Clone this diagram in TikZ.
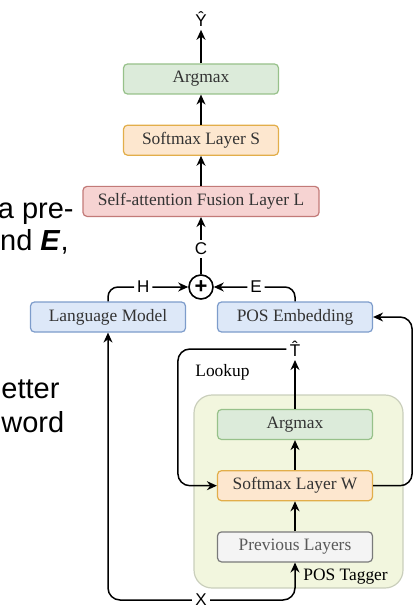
\documentclass[tikz,border=0pt]{standalone}
\usepackage{fontspec}
\setmainfont{Liberation Serif}
\newfontfamily\labelfont{Liberation Sans}
\usetikzlibrary{arrows.meta, positioning}

\definecolor{greenfill}{HTML}{DCEBDA}
\definecolor{greendraw}{HTML}{97C18A}
\definecolor{orangefill}{HTML}{FDE7CF}
\definecolor{orangedraw}{HTML}{E2AE4A}
\definecolor{redfill}{HTML}{F6D3D2}
\definecolor{reddraw}{HTML}{C27A78}
\definecolor{bluefill}{HTML}{DDE8F8}
\definecolor{bluedraw}{HTML}{7D9CCB}
\definecolor{greyfill}{HTML}{F4F4F4}
\definecolor{greydraw}{HTML}{7A7A7A}
\definecolor{taggerfill}{HTML}{F2F6DE}
\definecolor{taggerdraw}{HTML}{CACFBC}

\begin{document}
\begin{tikzpicture}[
    x=0.5pt, y=-0.5pt,
    node distance=15pt,
    every node/.style={font=\fontsize{8.7}{10}\selectfont},
    box/.style={rectangle, rounded corners=2pt, minimum width=77.5pt, minimum height=15pt, inner sep=0pt, line width=0.6pt, text=black!80},
    argbox/.style={box, draw=greendraw, fill=greenfill},
    smbox/.style={box, draw=orangedraw, fill=orangefill},
    fusebox/.style={box, draw=reddraw, fill=redfill, minimum width=118pt},
    lmbox/.style={box, draw=bluedraw, fill=bluefill},
    prevbox/.style={box, draw=greydraw, fill=greyfill, text=black!65},
    tagger/.style={rectangle, rounded corners=9pt, draw=taggerdraw, fill=taggerfill, line width=0.6pt, minimum width=104.5pt, minimum height=96.5pt},
    plus/.style={circle, draw=black, line width=0.8pt, minimum size=12pt, inner sep=0pt, font=\labelfont\bfseries\fontsize{11}{11}\selectfont},
    lbl/.style={font=\labelfont\fontsize{8.5}{9}\selectfont, fill=white, inner sep=1.5pt},
    bgtext/.style={font=\labelfont\fontsize{14.5}{17}\selectfont, inner sep=0pt},
    arrow/.style={-{Stealth[length=5pt, width=4.5pt]}, line width=0.75pt}
]
\useasboundingbox (0,0) rectangle (413,609);

% slide text behind the figure
\node[bgtext, anchor=base east] (frag1) at (74,219) {a pre-};
\node[bgtext, anchor=base east] (frag2) at (69,250) {nd \textbf{\textit{E}},};
\node[bgtext, anchor=base west] (frag3) at (1,398) {etter};
\node[bgtext, anchor=base west] (frag4) at (1,432) {word};

% sentence level column
\node[lbl] (yhat) at (201,19) {Ŷ};
\node[argbox] (argS) at (201,79) {Argmax};
\node[smbox, below=of argS] (smS) {Softmax Layer S};
\node[fusebox, below=of smS] (fusion) {Self-attention Fusion Layer L};
\node[plus] (add) at (201,287) {+};
\node[lmbox] (lm) at (108,317) {Language Model};
\node[lmbox] (pe) at (295,317) {POS Embedding};

% POS tagger
\node[tagger] (tagger) at (298.5,491.5) {};
\node[argbox] (argW) at (295,424.5) {Argmax};
\node[smbox, below=of argW] (smW) {Softmax Layer W};
\node[prevbox, below=of smW] (prev) {Previous Layers};
\node[anchor=base west, inner sep=0pt] (taggerlbl) at (303,580) {POS Tagger};
\node[anchor=west, inner sep=0pt] (lookup) at (195,372) {Lookup};
\node[lbl] (that) at (295,349) {\^{T}};
\node[lbl] (x) at (201,600) {X};

\draw[arrow] (argS) -- (yhat);
\draw[arrow] (smS) -- (argS);
\draw[arrow] (fusion) -- (smS);
\draw[arrow] (add) -- node[lbl, pos=0.44] {C} (fusion);
\draw[arrow, rounded corners=5pt] (lm.north) |- node[lbl, pos=0.72] {H} (add.west);
\draw[arrow, rounded corners=5pt] (pe.north) |- node[lbl, pos=0.74] {E} (add.east);

\draw[arrow] (prev) -- (smW);
\draw[arrow] (smW) -- (argW);
\draw[arrow] (argW) -- (that);
\draw[arrow, rounded corners=6pt] (that.west) -| ([xshift=-19.5pt]smW.west) -- (smW.west);
\draw[arrow, rounded corners=6pt] (smW.east) -| ([xshift=19.5pt]pe.east) -- (pe.east);

\draw[arrow, rounded corners=6pt] (x.west) -| (lm.south);
\draw[arrow, rounded corners=6pt] (x.east) -| (prev.south);

\end{tikzpicture}
\end{document}
